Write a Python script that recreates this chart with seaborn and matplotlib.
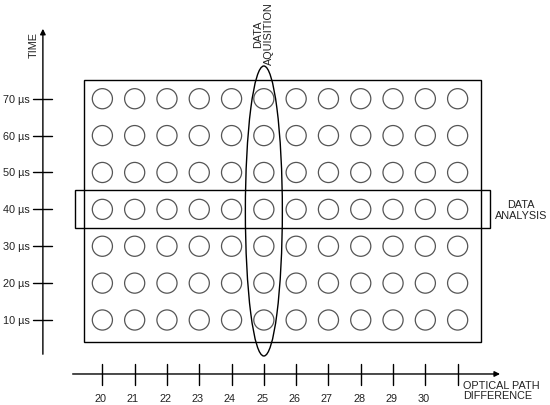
import numpy as np
import pandas as pd
import matplotlib
matplotlib.use("Agg")
import matplotlib.pyplot as plt
from matplotlib.patches import Rectangle, Ellipse
import seaborn as sns

# optical path difference positions (12 columns, last one unlabeled)
opd = [20, 21, 22, 23, 24, 25, 26, 27, 28, 29, 30, 31]
opd_labels = ["20", "21", "22", "23", "24", "25", "26", "27", "28", "29", "30", ""]
times = [70, 60, 50, 40, 30, 20, 10]
time_labels = ["70 µs", "60 µs", "50 µs", "40 µs", "30 µs", "20 µs", "10 µs"]
acq_col = 25
analysis_row = 40

grid = pd.DataFrame([(o, t) for t in times for o in opd], columns=["opd", "time"])

sns.set_theme(style="white")
plt.rcParams["font.family"] = ["Liberation Sans", "DejaVu Sans"]

fig = plt.figure(figsize=(5.5, 4.06), dpi=100)
ax = fig.add_axes([0, 0, 1, 1])
ax.set_xlim(16.83, 33.86)
ax.set_ylim(-13.05, 97.04)
ax.axis("off")

sx = 1 / 32.3      # data units per pixel (x)
sy = 1 / 3.688     # data units per pixel (y)
x0 = 20 - 102.5 * sx
y_top = 97.04
fs = 7.8
tc = "#222222"

def px(x):
    return x0 + x * sx

def py(y):
    return y_top - y * sy

sns.scatterplot(data=grid, x="opd", y="time", ax=ax, marker="o", s=210,
                facecolor="none", edgecolor="#555555", linewidth=0.9, legend=False)

lc = "black"
# time axis
ax.annotate("", xy=(px(43), py(27)), xytext=(px(43), py(358)),
            arrowprops=dict(arrowstyle="-|>", color=lc, lw=1, mutation_scale=8))
for t, lab in zip(times, time_labels):
    ax.plot([px(33), px(52)], [t, t], color=lc, lw=1)
    ax.text(px(3), t, lab, ha="left", va="center", fontsize=fs, color=tc)
ax.text(px(34), py(45), "TIME", rotation=90, ha="center", va="center", fontsize=fs, color=tc)

# optical path axis
ax.annotate("", xy=(px(503), py(375)), xytext=(px(70), py(375)),
            arrowprops=dict(arrowstyle="-|>", color=lc, lw=1, mutation_scale=8))
for o, lab in zip(opd, opd_labels):
    ax.plot([o, o], [py(365), py(386)], color=lc, lw=1)
    ax.text(o - 0.05, py(399), lab, ha="center", va="center", fontsize=fs, color=tc)
ax.text(px(463), py(391), "OPTICAL PATH\nDIFFERENCE", ha="left", va="center",
        fontsize=fs, linespacing=1.0, color=tc)

# outer frame
ax.add_patch(Rectangle((px(84), py(343)), 397 * sx, 262 * sy, fill=False, ec=lc, lw=1))
# data analysis row
ax.add_patch(Rectangle((px(75), analysis_row - 19 * sy), 415 * sx, 38 * sy,
                       fill=False, ec=lc, lw=1))
ax.text(px(521), analysis_row, "DATA\nANALYSIS", ha="center", va="center",
        fontsize=fs, linespacing=1.1, color=tc)
# data acquisition column
ax.add_patch(Ellipse((acq_col, py(212)), 37 * sx, 290 * sy, fill=False, ec=lc, lw=1))
ax.text(acq_col, py(34), "DATA\nAQUISITION", rotation=90, ha="center", va="center",
        fontsize=fs, linespacing=1.1, color=tc)

fig.savefig("out.png", dpi=100)
